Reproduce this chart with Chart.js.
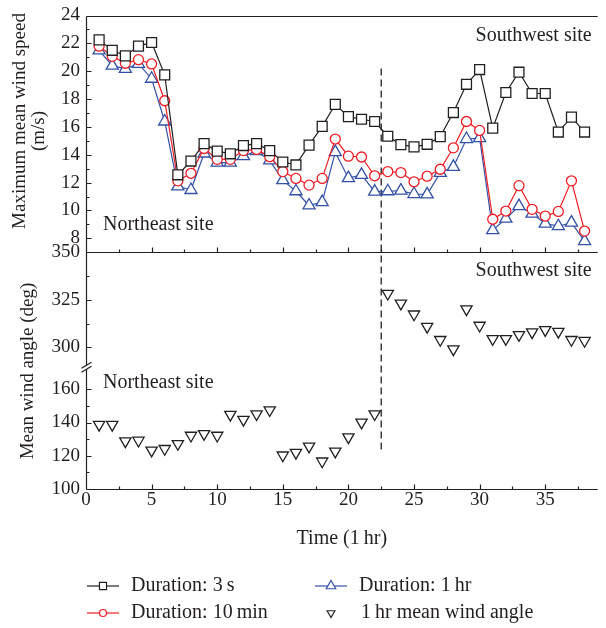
<!DOCTYPE html>
<html>
<head>
<meta charset="utf-8">
<script src="https://cdn.jsdelivr.net/npm/chart.js@4.4.1/dist/chart.umd.min.js"></script>
<style>
  html, body { margin: 0; padding: 0; background: #fff; overflow: hidden; }
  #wrap { width: 606px; height: 628px; }
</style>
</head>
<body>
<div id="wrap"><canvas id="windChart" width="606" height="628"></canvas></div>
<script>
// hourly records, 38 h
const hours = [1, 2, 3, 4, 5, 6, 7, 8, 9, 10, 11, 12, 13, 14, 15, 16, 17, 18, 19,
  20, 21, 22, 23, 24, 25, 26, 27, 28, 29, 30, 31, 32, 33, 34, 35, 36, 37, 38];

// maximum mean wind speed (m/s) per averaging duration
const gust3s = [22.25, 21.5, 21.1, 21.8, 22.06, 19.74, 12.56, 13.55, 14.8, 14.26,
  14.07, 14.66, 14.8, 14.3, 13.48, 13.27, 14.69, 16.04, 17.62, 16.74, 16.55, 16.39,
  15.33, 14.73, 14.57, 14.75, 15.3, 17.03, 19.06, 20.12, 15.91, 18.47, 19.93, 18.4,
  18.4, 15.63, 16.7, 15.63];
const mean10min = [21.8, 21.07, 20.57, 20.83, 20.52, 17.88, 12.13, 12.67, 14.45, 13.67,
  13.67, 14.3, 14.38, 13.86, 12.79, 12.3, 11.82, 12.3, 15.13, 13.9, 13.84, 12.49,
  12.79, 12.72, 12.06, 12.46, 12.96, 14.5, 16.39, 15.75, 9.37, 9.96, 11.78, 10.08,
  9.6, 9.93, 12.13, 8.52];
const mean1hr = [21.5, 20.4, 20.17, 20.52, 19.46, 16.39, 11.73, 11.47, 14.09, 13.43,
  13.43, 13.9, 14.26, 13.6, 12.18, 11.38, 10.36, 10.6, 14.19, 12.32, 12.56, 11.35,
  11.38, 11.43, 11.18, 11.16, 12.7, 13.13, 15.13, 15.2, 8.59, 9.41, 10.31, 9.77,
  9.06, 8.87, 9.13, 7.8];

// 1 hr mean wind angle (deg): northeast site for h 1-22, southwest site for h 23-38
const angleNortheast = [138.7, 138.7, 128.8, 129.2, 123.2, 124.2, 127.2, 132.2, 133.2,
  132.2, 144.7, 141.7, 145.1, 147.5, 120.3, 121.9, 125.6, 116.7, 122.6, 131.2, 140.1, 145.1];
const angleSouthwest = [328.3, 323.1, 317.4, 310.9, 304, 299.1, 320.1, 311.5, 304.5,
  304.5, 306.6, 308, 309.2, 308.3, 304, 303.5];

// tick labels
const hourTicks = [0, 5, 10, 15, 20, 25, 30, 35];
const speedTicks = [8, 10, 12, 14, 16, 18, 20, 22, 24];
const angleHighTicks = [300, 325, 350];
const angleLowTicks = [100, 120, 140, 160];

// site change-over and the extent of the dashed marker
const switchHour = 22.5;
const switchFromSpeed = 20.2;
const switchToAngle = 123;

const FONT = 'Liberation Serif';
const INK = '#231f20';
const RED = '#ee1d25';
const BLUE = '#3452a4';

const pts = (xs, ys) => ys.map((v, i) => ({ x: xs[i], y: v }));

const setTicks = (list) => (scale) => {
  scale.ticks = list.map(v => ({ value: v }));
};

const yAxis = (min, max, ticks, weight, stackWeight) => ({
  type: 'linear',
  position: 'left',
  stack: 'left',
  stackWeight: stackWeight,
  weight: weight,
  min: min,
  max: max,
  grid: { display: false, drawTicks: false },
  border: { display: false },
  afterBuildTicks: setTicks(ticks),
  afterFit: (s) => { s.width = 86; },
  ticks: { font: { family: FONT, size: 19, lineHeight: 1 }, color: INK, padding: 6,
    autoSkip: false }
});

function midpoints(list, extra) {
  const out = [];
  for (let i = 0; i < list.length - 1; i++) out.push((list[i] + list[i + 1]) / 2);
  return out.concat(extra || []);
}

// axes frame, inward ticks, axis break, divider and annotations
const framePlugin = {
  id: 'framePlugin',
  beforeDatasetsDraw(chart) {
    const { ctx, chartArea, scales } = chart;
    const { x, ySpeed, yHigh, yLow } = scales;
    const L = Math.round(chartArea.left) + 0.5;
    const R = chartArea.right;
    const yPanel = Math.round(ySpeed.bottom) + 0.5;
    const yTop = Math.round(chartArea.top) + 0.5;
    const yBot = Math.round(chartArea.bottom) + 0.5;

    ctx.save();
    ctx.strokeStyle = INK;
    ctx.lineWidth = 1.2;
    ctx.beginPath();
    ctx.moveTo(L, yTop); ctx.lineTo(R, yTop);
    ctx.moveTo(L, yPanel); ctx.lineTo(R, yPanel);
    ctx.moveTo(L, yBot); ctx.lineTo(R, yBot);
    ctx.moveTo(L, yTop); ctx.lineTo(L, yBot);

    // ticks on the left axis, pointing into the panels
    const leftTicks = (scale, major, minor) => {
      major.forEach(v => {
        const p = Math.round(scale.getPixelForValue(v)) + 0.5;
        ctx.moveTo(L, p); ctx.lineTo(L + 5, p);
      });
      minor.forEach(v => {
        const p = Math.round(scale.getPixelForValue(v)) + 0.5;
        ctx.moveTo(L, p); ctx.lineTo(L + 3, p);
      });
    };
    leftTicks(ySpeed, speedTicks, midpoints(speedTicks));
    leftTicks(yHigh, angleHighTicks, midpoints(angleHighTicks));
    leftTicks(yLow, angleLowTicks, midpoints(angleLowTicks));

    // hour ticks along the bottom of both panels, pointing up
    [yPanel, yBot].forEach(base => {
      hourTicks.forEach(v => {
        const p = Math.round(x.getPixelForValue(v)) + 0.5;
        ctx.moveTo(p, base); ctx.lineTo(p, base - 5);
      });
      midpoints(hourTicks, [37.5]).forEach(v => {
        const p = Math.round(x.getPixelForValue(v)) + 0.5;
        ctx.moveTo(p, base); ctx.lineTo(p, base - 3);
      });
    });
    ctx.stroke();

    // break between the two angle ranges
    const yb = yHigh.bottom;
    ctx.fillStyle = '#fff';
    ctx.beginPath();
    ctx.moveTo(L - 5, yb + 1); ctx.lineTo(L + 5, yb - 5);
    ctx.lineTo(L + 5, yb - 1); ctx.lineTo(L - 5, yb + 5);
    ctx.closePath();
    ctx.fill();
    ctx.beginPath();
    ctx.moveTo(L - 5, yb + 1); ctx.lineTo(L + 5, yb - 5);
    ctx.moveTo(L - 5, yb + 5); ctx.lineTo(L + 5, yb - 1);
    ctx.stroke();

    // dashed divider at the site change-over
    const xs = x.getPixelForValue(switchHour);
    ctx.setLineDash([7, 4]);
    ctx.lineWidth = 1.3;
    ctx.beginPath();
    ctx.moveTo(xs, ySpeed.getPixelForValue(switchFromSpeed));
    ctx.lineTo(xs, yLow.getPixelForValue(switchToAngle));
    ctx.stroke();
    ctx.restore();
  },
  afterDraw(chart) {
    const { ctx, chartArea, scales } = chart;
    const { ySpeed, yHigh, yLow } = scales;
    ctx.save();
    ctx.fillStyle = INK;
    ctx.textBaseline = 'middle';
    ctx.font = `20px "${FONT}"`;
    ctx.textAlign = 'left';
    ctx.fillText('Northeast site', chartArea.left + 17, ySpeed.bottom - 28);
    ctx.fillText('Northeast site', chartArea.left + 17, yLow.top + 16);
    ctx.textAlign = 'right';
    ctx.fillText('Southwest site', chartArea.right - 6, ySpeed.top + 20);
    ctx.fillText('Southwest site', chartArea.right - 6, yHigh.top + 18);

    // y titles
    ctx.textAlign = 'center';
    ctx.font = `19px "${FONT}"`;
    ctx.save();
    ctx.translate(20, 121);
    ctx.rotate(-Math.PI / 2);
    ctx.fillText('Maximum mean wind speed', 0, 0);
    ctx.restore();
    ctx.save();
    ctx.translate(39, 131);
    ctx.rotate(-Math.PI / 2);
    ctx.fillText('(m/s)', 0, 0);
    ctx.restore();
    ctx.save();
    ctx.translate(28, 371);
    ctx.rotate(-Math.PI / 2);
    ctx.fillText('Mean wind angle (deg)', 0, 0);
    ctx.restore();

    // legend
    const rows = [586, 613];
    const entries = [
      { label: 'Duration: 3\u2009s', color: INK, style: 'rect', r: 5, line: true, sx: 87, tx: 131, y: rows[0] },
      { label: 'Duration: 10\u2009min', color: RED, style: 'circle', r: 3.5, line: true, sx: 87, tx: 131, y: rows[1] },
      { label: 'Duration: 1\u2009hr', color: BLUE, style: 'triangle', r: 5.5, line: true, sx: 315, tx: 359, y: rows[0] },
      { label: '1\u2009hr mean wind angle', color: INK, style: 'triangle', r: 4.5, rot: 180, line: false, sx: 315, tx: 361, y: rows[1] }
    ];
    ctx.font = `20px "${FONT}"`;
    ctx.textAlign = 'left';
    entries.forEach(e => {
      const cx = e.sx + 16;
      ctx.strokeStyle = e.color;
      ctx.lineWidth = 1.2;
      if (e.line) {
        ctx.beginPath();
        ctx.moveTo(e.sx, e.y); ctx.lineTo(e.sx + 32, e.y);
        ctx.stroke();
      }
      ctx.fillStyle = '#fff';
      Chart.helpers.drawPoint(ctx, {
        pointStyle: e.style, radius: e.r, rotation: e.rot || 0, borderWidth: 1.2
      }, cx, e.y);
      ctx.fillStyle = INK;
      ctx.fillText(e.label, e.tx, e.y);
    });
    ctx.restore();
  }
};

const seriesStyle = (color, style, radius) => ({
  borderColor: color,
  backgroundColor: '#fff',
  pointBorderColor: color,
  pointBackgroundColor: '#fff',
  pointStyle: style,
  pointRadius: radius,
  pointBorderWidth: 1.3,
  borderWidth: 1.2,
  tension: 0,
  yAxisID: 'ySpeed'
});

new Chart(document.getElementById('windChart'), {
  type: 'line',
  data: {
    datasets: [
      { label: 'Duration: 3 s', data: pts(hours, gust3s), ...seriesStyle(INK, 'rect', 7) },
      { label: 'Duration: 10 min', data: pts(hours, mean10min), ...seriesStyle(RED, 'circle', 5) },
      { label: 'Duration: 1 hr', data: pts(hours, mean1hr), ...seriesStyle(BLUE, 'triangle', 7) },
      {
        label: '1 hr mean wind angle', data: pts(hours.slice(0, 22), angleNortheast),
        showLine: false, pointStyle: 'triangle', rotation: 180, pointRadius: 6.5,
        pointBorderColor: INK, pointBackgroundColor: '#fff', pointBorderWidth: 1.3,
        yAxisID: 'yLow'
      },
      {
        label: '1 hr mean wind angle', data: pts(hours.slice(22), angleSouthwest),
        showLine: false, pointStyle: 'triangle', rotation: 180, pointRadius: 6.5,
        pointBorderColor: INK, pointBackgroundColor: '#fff', pointBorderWidth: 1.3,
        yAxisID: 'yHigh'
      }
    ]
  },
  options: {
    responsive: false,
    animation: false,
    devicePixelRatio: 1,
    layout: { padding: { top: 11, right: 0, bottom: 79, left: 0 } },
    plugins: { legend: { display: false }, tooltip: { enabled: false } },
    scales: {
      x: {
        type: 'linear',
        position: 'bottom',
        min: 0,
        max: 39,
        grid: { display: false, drawTicks: false },
        border: { display: false },
        afterBuildTicks: setTicks(hourTicks),
        afterFit: (s) => { s.height = 60; },
        ticks: { font: { family: FONT, size: 19, lineHeight: 1 }, color: INK, padding: 2,
          autoSkip: false, maxRotation: 0 },
        title: { display: true, text: 'Time (1\u2009hr)', color: INK, padding: 0,
          font: { family: FONT, size: 20, lineHeight: 1 } }
      },
      yLow: yAxis(100, 173.3, angleLowTicks, 1, 123),
      yHigh: yAxis(289.6, 350, angleHighTicks, 2, 116),
      ySpeed: yAxis(7, 24, speedTicks, 3, 239)
    }
  },
  plugins: [framePlugin]
});
</script>
</body>
</html>
